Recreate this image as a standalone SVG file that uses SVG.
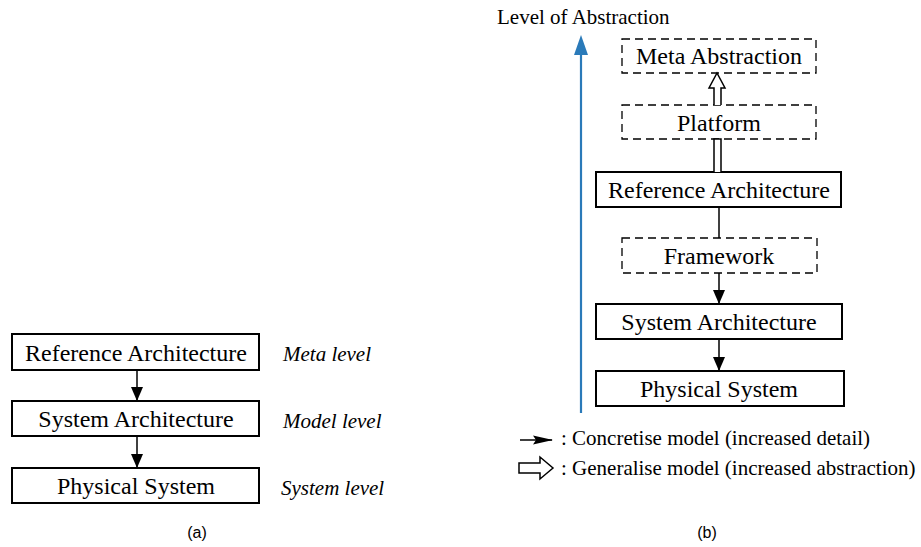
<svg xmlns="http://www.w3.org/2000/svg" width="921" height="547" viewBox="0 0 921 547">
<style>
.t{font-family:"Liberation Serif","Times New Roman",serif;font-size:24px;fill:#000;text-anchor:middle}
.it{font-family:"Liberation Serif","Times New Roman",serif;font-size:21px;font-style:italic;fill:#000}
.lg{font-family:"Liberation Serif","Times New Roman",serif;font-size:21px;fill:#000}
.cap{font-family:"Liberation Sans",Arial,sans-serif;font-size:16px;fill:#000;text-anchor:middle}
.box{fill:#fff;stroke:#000;stroke-width:2}
.dbox{fill:#fff;stroke:#000;stroke-width:1.3;stroke-dasharray:8,5}
.ln{stroke:#000;stroke-width:1.5;fill:none}
.hol{fill:#fff;stroke:#000;stroke-width:1.5}
</style>
<defs>
<marker id="ah" markerWidth="14" markerHeight="12" refX="13" refY="6" orient="auto" markerUnits="userSpaceOnUse"><path d="M0,0 L14,6 L0,12 Z" fill="#000"/></marker>
<marker id="ahl" markerWidth="20" markerHeight="10" refX="19" refY="5" orient="auto" markerUnits="userSpaceOnUse"><path d="M0,0.5 L20,5 L0,9.5 L3,5 Z" fill="#000"/></marker>
</defs>
<g id="a-ref"><rect class="box" x="12" y="334" width="247" height="36"/><text class="t" x="136" y="361">Reference Architecture</text></g>
<g id="a-sys"><rect class="box" x="12" y="401" width="247" height="35"/><text class="t" x="136" y="427">System Architecture</text></g>
<g id="a-phy"><rect class="box" x="12" y="468" width="247" height="35"/><text class="t" x="136" y="494">Physical System</text></g>
<g id="a-labels"><text class="it" x="283" y="361">Meta level</text><text class="it" x="283" y="428">Model level</text><text class="it" x="281" y="495">System level</text><text class="cap" x="197" y="538">(a)</text></g>
<g id="b-axis"><line x1="581" y1="413" x2="581" y2="52" stroke="#2a7ab9" stroke-width="2.2"/><path d="M574,55 L581,35 L588,55 Z" fill="#2a7ab9"/><text class="lg" x="497" y="24">Level of Abstraction</text></g>
<g id="b-meta"><rect class="dbox" x="622" y="39" width="194" height="34"/><text class="t" x="719" y="64">Meta Abstraction</text></g>
<g id="b-plat"><rect class="dbox" x="622" y="105" width="194" height="34"/><text class="t" x="719" y="131">Platform</text></g>
<g id="b-ref"><rect class="box" x="596" y="172" width="245" height="35"/><text class="t" x="719" y="198">Reference Architecture</text></g>
<g id="b-fw"><rect class="dbox" x="622" y="238" width="195" height="35"/><text class="t" x="719" y="264">Framework</text></g>
<g id="b-sys"><rect class="box" x="596" y="304" width="246" height="35"/><text class="t" x="719" y="330">System Architecture</text></g>
<g id="b-phy"><rect class="box" x="596" y="371" width="248" height="35"/><text class="t" x="719" y="397">Physical System</text></g>
<g id="connectors">
<line class="ln" x1="137" y1="370" x2="137" y2="400" marker-end="url(#ah)"/>
<line class="ln" x1="137" y1="436" x2="137" y2="467" marker-end="url(#ah)"/>
<path class="hol" d="M714,105 L714,88 L709,88 L717,73 L725,88 L721,88 L721,105"/>
<path class="hol" d="M714,172 L714,139 L721,139 L721,172"/>
<line class="ln" x1="719" y1="207" x2="719" y2="238"/>
<line class="ln" x1="719" y1="273" x2="719" y2="303" marker-end="url(#ah)"/>
<line class="ln" x1="719" y1="339" x2="719" y2="370" marker-end="url(#ah)"/>
</g>
<g id="legend">
<line class="ln" x1="520" y1="440" x2="552" y2="440" marker-end="url(#ahl)"/>
<text class="lg" x="561" y="445">: Concretise model (increased detail)</text>
<path class="hol" d="M519,463 L540,463 L540,457 L553,468 L540,479 L540,473 L519,473 Z"/>
<text class="lg" x="561" y="475">: Generalise model (increased abstraction)</text>
<text class="cap" x="707" y="538">(b)</text>
</g>
</svg>
